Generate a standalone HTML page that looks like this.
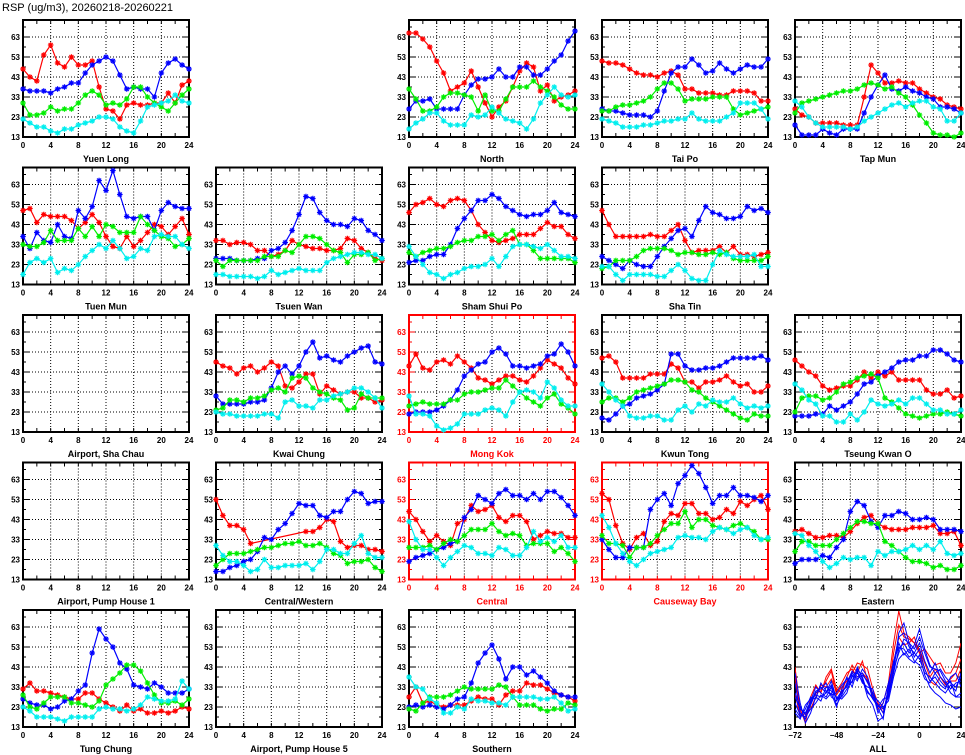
<!DOCTYPE html>
<html><head><meta charset="utf-8">
<style>
html,body{margin:0;padding:0;background:#fff;}
body{width:965px;height:755px;overflow:hidden;}
svg{display:block;}
text{font-family:"Liberation Sans",sans-serif;font-weight:bold;}
</style></head>
<body>
<svg id="chart" width="965" height="755" viewBox="0 0 965 755" xmlns="http://www.w3.org/2000/svg">
<text x="2" y="11" font-size="11" font-weight="normal" style="font-weight:normal">RSP (ug/m3), 20260218-20260221</text>
</svg>
<script>
// series order: red, blue, green, cyan ; hours 0..24
const hours = [0,1,2,3,4,5,6,7,8,9,10,11,12,13,14,15,16,17,18,19,20,21,22,23,24];
const yTicks = [13,23,33,43,53,63];
const xTicks = [0,4,8,12,16,20,24];
const allXTicks = [-72,-48,-24,0,24];
const allX = [-72,-69,-66,-63,-60,-57,-54,-51,-48,-45,-42,-39,-36,-33,-30,-27,-24,-21,-18,-15,-12,-9,-6,-3,0,3,6,9,12,15,18,21,24];

const yuenLong = [
[47,43,41,54,59,50,48,53,49,49,51,38,27,26,22,29,30,29,29,30,30,35,30,39,41],
[37,36,36,36,35,37,38,40,40,45,49,51,53,51,44,37,38,37,37,33,45,50,52,49,47],
[30,24,24,25,28,26,27,27,30,34,36,34,29,30,29,32,38,38,33,30,28,26,30,34,37],
[22,20,18,18,16,15,17,17,19,20,21,23,23,22,18,16,15,21,28,29,30,31,34,31,30]];
const north = [
[65,65,62,58,51,45,36,38,40,46,38,30,23,28,31,38,46,50,48,36,39,31,33,34,36],
[27,31,31,32,27,27,27,27,34,39,42,42,43,47,43,43,48,48,44,44,47,51,54,61,66],
[37,32,26,26,28,33,35,35,34,33,26,34,26,26,32,38,38,38,41,38,36,33,29,27,27],
[17,20,22,25,25,21,19,19,19,24,23,24,28,25,22,21,20,17,22,30,34,38,34,33,34]];
const taiPo = [
[51,50,50,49,47,45,44,44,43,45,46,44,37,37,35,35,35,34,34,36,36,36,35,31,31],
[27,26,26,25,24,24,24,23,26,36,45,48,48,52,49,45,46,50,47,45,47,49,48,48,52],
[26,26,28,29,29,30,31,33,37,40,40,37,31,32,32,32,33,33,33,27,24,25,26,27,28],
[22,21,20,18,18,18,19,19,20,21,21,22,22,25,22,21,21,21,23,25,30,30,30,27,22]];
const tapMun = [
[27,24,23,20,20,20,20,19,19,19,33,49,45,40,40,41,40,40,37,35,33,32,29,28,27],
[19,14,14,14,17,15,14,17,17,17,25,33,39,44,37,36,38,36,35,33,32,28,28,27,25],
[25,30,31,32,33,34,35,36,36,37,39,40,39,37,38,35,33,29,24,20,15,14,14,13,15],
[31,28,23,20,18,18,18,18,17,18,21,23,25,27,29,30,28,30,31,31,28,27,21,21,25]];
const tuenMun = [
[50,51,44,48,47,47,47,45,41,44,48,44,37,32,31,37,32,35,39,43,42,38,42,46,38],
[37,31,39,35,34,43,37,36,50,46,52,65,60,70,58,47,46,47,47,40,50,54,52,51,51],
[33,32,32,34,40,35,35,35,41,37,42,37,43,42,39,39,39,47,43,40,37,36,32,33,36],
[18,24,26,24,26,19,21,20,23,27,30,33,31,35,31,26,27,31,30,37,38,37,37,33,31]];
const tsuenWan = [
[35,35,33,34,34,33,30,30,27,28,30,35,33,32,31,31,30,30,31,36,35,31,29,26,25],
[26,26,26,25,25,25,26,26,30,31,34,40,48,57,56,49,45,43,43,42,46,45,40,38,35],
[25,22,25,25,25,25,25,27,27,27,30,29,33,37,37,36,33,30,29,24,28,28,29,25,26],
[18,18,17,17,17,17,16,17,20,18,19,20,21,20,20,20,24,26,27,28,29,29,28,28,26]];
const shamShuiPo = [
[49,53,54,56,53,52,55,56,55,50,43,39,35,34,35,36,38,38,38,41,44,42,42,38,36],
[24,25,25,27,28,28,33,41,46,50,55,55,58,56,52,50,48,47,48,48,50,54,49,48,47],
[29,27,29,30,31,31,32,34,35,35,37,37,38,35,38,40,33,33,30,26,26,26,26,26,24],
[32,27,23,19,18,16,18,19,21,22,22,23,26,22,27,32,33,33,32,31,33,30,27,27,26]];
const shaTin = [
[50,43,37,37,37,37,37,38,37,37,40,43,35,29,30,30,30,32,29,32,28,28,27,28,29],
[27,25,23,21,25,23,22,22,27,32,36,40,41,37,45,52,49,48,46,46,47,52,50,51,49],
[21,22,25,25,25,27,30,31,31,31,30,28,29,29,28,28,29,28,29,26,25,25,25,25,27],
[22,22,18,15,18,18,18,18,17,17,20,23,20,16,15,15,23,30,28,27,27,27,28,22,22]];
const kwaiChung = [
[48,46,45,42,45,46,43,45,48,46,36,35,38,42,42,32,36,34,32,33,33,30,30,28,29],
[31,27,27,27,27,28,28,29,35,43,46,42,46,53,58,50,51,49,48,51,53,55,56,48,47],
[24,25,29,29,28,30,30,31,34,35,33,40,41,40,35,33,32,30,29,24,25,32,30,30,30],
[23,22,22,21,21,21,21,22,22,20,28,29,26,26,25,29,29,31,32,33,35,35,33,30,25]];
const mongKok = [
[46,52,45,44,48,49,47,51,48,45,40,39,37,39,41,41,39,38,41,45,49,47,45,40,37],
[22,23,23,23,24,26,29,34,41,44,47,48,53,55,52,46,46,45,46,47,51,52,57,53,46],
[26,27,28,27,27,27,29,29,32,33,33,34,35,35,39,36,33,30,28,26,30,32,27,25,22],
[31,22,22,21,16,14,15,17,22,22,22,24,25,24,21,28,33,34,33,30,38,35,29,26,26]];
const kwunTong = [
[50,51,48,40,40,40,40,42,42,42,47,45,38,38,35,38,38,39,41,38,36,37,33,33,36],
[20,19,22,26,27,30,31,32,34,37,52,52,46,44,44,45,45,46,48,50,50,50,50,51,49],
[28,30,30,28,30,33,34,35,36,37,39,39,38,34,33,30,28,26,24,22,20,19,22,21,21],
[37,33,29,26,21,20,20,21,21,19,19,24,26,23,27,26,29,28,28,30,27,25,26,25,26]];
const tseungKwanO = [
[49,46,43,41,36,34,35,36,36,39,43,40,43,41,43,39,39,39,39,34,32,32,34,30,31],
[21,21,21,22,22,26,24,26,28,32,37,38,41,43,45,48,49,49,51,51,54,54,52,49,48],
[23,30,31,31,29,30,33,37,38,40,41,42,40,30,28,25,22,21,20,21,22,22,23,22,21],
[37,34,29,27,21,21,18,18,22,19,23,29,27,26,27,29,27,30,30,27,24,24,22,22,24]];
const centralWestern = [
[53,45,40,40,38,31,null,null,null,null,null,null,null,37,37,39,43,42,32,29,30,30,28,28,27],
[17,17,19,20,22,23,27,34,33,38,41,46,51,50,50,45,44,47,47,53,57,56,51,52,52],
[20,23,26,26,26,27,28,29,29,30,31,31,32,30,30,31,29,26,25,21,22,22,23,19,17],
[30,25,22,22,20,17,18,23,19,19,20,20,20,21,18,22,28,28,26,26,31,35,26,24,24]];
const central = [
[47,43,37,32,35,32,30,41,43,50,47,48,50,44,42,45,45,42,33,35,37,36,36,34,34],
[22,24,25,26,28,29,31,32,44,48,55,53,51,56,58,55,55,53,56,53,57,57,54,50,45],
[29,29,29,30,28,31,33,32,35,38,38,38,41,37,35,36,35,30,31,31,31,27,29,26,22],
[42,33,28,28,24,20,24,27,30,29,26,26,25,29,28,25,25,29,37,32,34,32,35,29,29]];
const causewayBay = [
[56,53,40,31,28,34,36,30,32,42,46,45,51,51,46,46,43,44,48,46,52,50,53,55,48],
[33,28,24,24,29,29,29,48,53,56,50,61,65,70,66,59,51,55,55,59,55,55,54,52,55],
[35,31,31,30,24,29,29,31,35,38,41,41,47,39,43,43,40,39,38,40,41,39,37,33,33],
[45,39,31,26,22,20,23,26,27,28,29,34,35,34,34,33,37,39,38,36,38,39,35,33,34]];
const eastern = [
[37,38,36,34,34,35,35,34,37,41,44,45,41,39,38,38,38,39,39,39,40,36,36,37,30],
[21,23,23,23,25,24,29,33,47,52,50,42,39,45,45,47,46,43,43,44,43,38,38,38,37],
[27,32,32,30,30,30,33,36,39,42,42,41,41,32,30,27,24,22,22,21,19,20,18,18,20],
[36,35,30,27,22,19,21,24,23,24,24,20,27,25,27,27,28,30,28,30,28,32,26,25,26]];
const tungChung = [
[32,35,31,31,30,29,28,27,27,30,30,27,25,23,21,24,21,22,20,20,21,20,21,23,22],
[27,25,24,24,22,23,26,27,31,34,50,62,57,53,45,42,34,33,32,35,33,30,30,30,32],
[29,23,22,25,28,28,28,25,25,24,23,26,34,37,40,44,44,41,35,29,25,25,26,24,27],
[23,21,18,18,18,17,16,18,18,18,18,22,23,22,22,21,22,24,28,27,26,26,27,36,32]];
const southern = [
[28,33,25,26,24,23,24,24,24,26,28,27,27,24,29,31,31,35,34,34,32,30,29,28,26],
[23,24,23,24,23,22,24,27,28,35,45,50,54,47,37,43,43,39,41,38,35,31,29,28,28],
[22,21,25,28,28,28,29,31,33,32,32,32,32,34,33,28,24,24,24,22,21,22,22,25,24],
[38,33,32,27,25,20,20,23,22,27,26,26,25,25,24,28,28,28,28,27,27,28,25,21,22]];

const allBlue = [
[35,20,17,24,30,33,30,36,27,31,33,38,40,36,31,27,24,22,28,40,52,55,50,54,62,52,44,40,42,38,35,33,38],
[28,22,20,26,33,30,28,33,24,29,35,41,38,40,35,30,20,25,35,45,58,60,53,50,55,46,40,45,38,35,30,28,30],
[22,18,22,28,27,35,31,29,30,34,37,35,43,37,28,24,16,18,30,42,50,57,55,48,52,42,36,38,34,32,38,40,33],
[40,25,15,20,28,26,33,31,28,27,30,39,36,42,38,29,26,23,26,38,47,50,47,45,49,39,33,30,28,25,24,22,23],
[25,19,18,22,25,29,27,30,23,32,38,33,41,35,33,32,22,17,34,44,55,49,52,46,44,37,35,40,36,33,36,28,28],
[30,23,19,25,31,32,35,28,26,30,34,40,37,39,36,27,23,27,28,41,60,65,55,52,58,50,43,42,41,36,32,35,36],
[20,17,24,27,29,28,30,34,27,28,32,36,42,38,30,28,24,20,32,46,53,52,48,50,47,40,38,35,32,30,34,31,40]];
const allRed = [
[43,22,15,28,34,30,38,42,32,30,38,44,40,46,36,30,22,25,35,55,71,60,58,55,50,52,48,44,45,40,40,45,55],
[38,20,18,25,30,31,36,41,29,33,36,40,45,44,42,32,25,20,30,50,64,58,57,55,52,45,38,42,38,35,37,40,47],
[30,18,20,22,28,34,33,37,31,35,40,42,38,40,37,28,24,22,28,45,58,54,55,58,50,42,36,34,38,34,36,36,42]];

const seriesColors = ['#ff0000','#0000ff','#00ee00','#00eeee'];
const seriesNames = ['red','blue','green','cyan'];
const colLeft = [23,216,409,602,795];
const rowTop = [20,167.5,315,462.5,610];
const PW = 166, PH = 117, YMIN = 13, YMAX = 71.5;

const panels = [
 {name:'Yuen Long',c:0,r:0,d:yuenLong},{name:'North',c:2,r:0,d:north},{name:'Tai Po',c:3,r:0,d:taiPo},{name:'Tap Mun',c:4,r:0,d:tapMun},
 {name:'Tuen Mun',c:0,r:1,d:tuenMun},{name:'Tsuen Wan',c:1,r:1,d:tsuenWan},{name:'Sham Shui Po',c:2,r:1,d:shamShuiPo},{name:'Sha Tin',c:3,r:1,d:shaTin},
 {name:'Airport, Sha Chau',c:0,r:2,d:null},{name:'Kwai Chung',c:1,r:2,d:kwaiChung},{name:'Mong Kok',c:2,r:2,d:mongKok,red:true},{name:'Kwun Tong',c:3,r:2,d:kwunTong},{name:'Tseung Kwan O',c:4,r:2,d:tseungKwanO},
 {name:'Airport, Pump House 1',c:0,r:3,d:null},{name:'Central/Western',c:1,r:3,d:centralWestern},{name:'Central',c:2,r:3,d:central,red:true},{name:'Causeway Bay',c:3,r:3,d:causewayBay,red:true},{name:'Eastern',c:4,r:3,d:eastern},
 {name:'Tung Chung',c:0,r:4,d:tungChung},{name:'Airport, Pump House 5',c:1,r:4,d:null},{name:'Southern',c:2,r:4,d:southern}
];

const svg = document.getElementById('chart');
const NS = 'http://www.w3.org/2000/svg';
function mk(tag, attrs, parent){const e=document.createElementNS(NS,tag);for(const k in attrs)e.setAttribute(k,attrs[k]);parent.appendChild(e);return e;}
function slug(s){return s.toLowerCase().replace(/[^a-z0-9]+/g,'-').replace(/(^-|-$)/g,'');}

function makeX(left, xmin, xmax){return v => left + (v - xmin) / (xmax - xmin) * PW;}
function makeY(top){return v => top + PH - (v - YMIN) / (YMAX - YMIN) * PH;}

function drawFrame(g, left, top, xs, ys, xmin, xmax, xt, minorStep, col, name){
  // grid
  for (const t of yTicks){ if(t===YMIN) continue;
    const l=mk('line',{x1:left,x2:left+PW,y1:ys(t),y2:ys(t),stroke:'#000','stroke-width':1,'stroke-dasharray':'1,2'},g);
     
  }
  for (const t of xt){ if(t===xmin||t===xmax) continue;
    const l=mk('line',{x1:xs(t),x2:xs(t),y1:top,y2:top+PH,stroke:'#000','stroke-width':1,'stroke-dasharray':'1,2'},g);
     
  }
  // minor ticks
  for (let v=xmin; v<=xmax; v+=minorStep){
    mk('line',{x1:xs(v),x2:xs(v),y1:top+PH,y2:top+PH-4,stroke:col,'stroke-width':1},g);
    mk('line',{x1:xs(v),x2:xs(v),y1:top,y2:top+4,stroke:col,'stroke-width':1},g);
  }
  for (let v=YMIN; v<=YMAX; v+=5){
    const len = ((v-YMIN)%10===0)?6:3;
    mk('line',{x1:left,x2:left+len,y1:ys(v),y2:ys(v),stroke:col,'stroke-width':1},g);
    mk('line',{x1:left+PW,x2:left+PW-len,y1:ys(v),y2:ys(v),stroke:col,'stroke-width':1},g);
  }
  const fr=mk('rect',{x:left,y:top,width:PW,height:PH,fill:'none',stroke:col,'stroke-width':2},g);
   
  for (const t of yTicks){
    const tx=mk('text',{x:left-3,y:ys(t)+3,'font-size':8,'text-anchor':'end',fill:col},g);
     
    tx.textContent=t;
  }
  for (const t of xt){
    const tx=mk('text',{x:xs(t),y:top+PH+11,'font-size':8,'text-anchor':'middle',fill:col},g);
     
    tx.textContent=(t<0?'\u2212'+(-t):t);
  }
  const nm=mk('text',{x:left+PW/2,y:top+PH+25,'font-size':9,'text-anchor':'middle',fill:col},g);
   
  nm.textContent=name;
}

function marker(g,x,y,color){
  const s=2.8, d=2;
  const p=mk('path',{d:`M${x-s},${y}H${x+s}M${x},${y-s}V${y+s}M${x-d},${y-d}L${x+d},${y+d}M${x-d},${y+d}L${x+d},${y-d}`,stroke:color,'stroke-width':1.2,fill:'none'},g);
   
}

for (const p of panels){
  const left=colLeft[p.c], top=rowTop[p.r];
  const col=p.red?'#ff0000':'#000000';
  const g=mk('g',{},svg);
  
  
  const xs=makeX(left,0,24), ys=makeY(top);
  drawFrame(g,left,top,xs,ys,0,24,xTicks,2,col,p.name);
  if(!p.d) continue;
  p.d.forEach((vals,si)=>{
    const sg=mk('g',{},g);
    
    
    const pts=[];
    vals.forEach((v,i)=>{ if(v!==null) pts.push([xs(hours[i]),ys(v)]); });
    const ln=mk('polyline',{points:pts.map(q=>q[0].toFixed(1)+','+q[1].toFixed(1)).join(' '),fill:'none',stroke:seriesColors[si],'stroke-width':1.2},sg);
     
    pts.forEach(q=>marker(sg,q[0],q[1],seriesColors[si]));
  });
}

// ALL panel
(function(){
  const left=colLeft[4], top=rowTop[4];
  const g=mk('g',{},svg);
  
  
  const xs=makeX(left,-72,24), ys=makeY(top);
  const clip=mk('clipPath',{id:'allclip'},g);
  mk('rect',{x:left,y:top,width:PW,height:PH},clip);
  drawFrame(g,left,top,xs,ys,-72,24,allXTicks,6,'#000','ALL');
  const lg=mk('g',{'clip-path':'url(#allclip)'},g);
   
  const draw=(arr,color,nm)=>arr.forEach(vals=>{
    const pl=mk('polyline',{points:vals.map((v,i)=>xs(allX[i]).toFixed(1)+','+ys(v).toFixed(1)).join(' '),fill:'none',stroke:color,'stroke-width':1},lg);
     
  });
  draw(allRed,'#ff0000','roadside-station-line');
  draw(allBlue,'#0000ff','general-station-line');
})();
</script>
</body></html>
